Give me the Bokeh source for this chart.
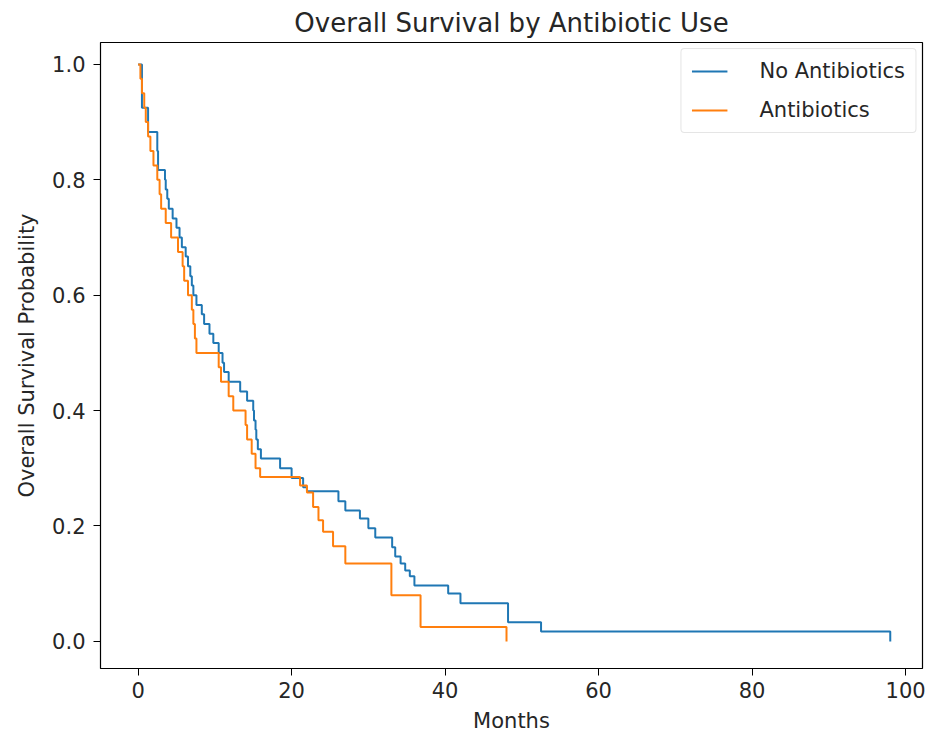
from bokeh.plotting import figure
from bokeh.models import FixedTicker, PrintfTickFormatter, Range1d, Legend, LegendItem
from bokeh.embed import file_html
from bokeh.resources import INLINE

# Kaplan-Meier step data
no_abx_months = [0, 0.5, 1.3, 2.5, 2.6, 3.5, 3.6, 3.8, 4.0, 4.5, 5.0, 5.4, 5.7, 6.2, 6.5,
                 6.8, 7.0, 7.2, 7.6, 8.3, 8.6, 9.3, 9.8, 10.5, 11.0, 11.2, 11.8, 13.3,
                 14.2, 15.0, 15.1, 15.3, 15.4, 15.6, 16.0, 18.5, 20.0, 21.5, 22.0, 26.1,
                 27.0, 28.9, 30.0, 30.9, 33.1, 33.5, 34.2, 34.8, 35.4, 36.0, 40.4, 42.0,
                 48.2, 52.5, 98.0]
no_abx_surv = [1.0, 0.925, 0.883, 0.85, 0.817, 0.8, 0.783, 0.767, 0.75, 0.733, 0.717, 0.7,
               0.683, 0.667, 0.65, 0.633, 0.617, 0.6, 0.583, 0.567, 0.55, 0.533, 0.517,
               0.5, 0.483, 0.467, 0.45, 0.433, 0.417, 0.4, 0.383, 0.367, 0.35, 0.333,
               0.317, 0.3, 0.283, 0.267, 0.26, 0.243, 0.227, 0.213, 0.196, 0.18, 0.163,
               0.147, 0.135, 0.123, 0.113, 0.097, 0.083, 0.066, 0.033, 0.017, 0.0]

abx_months = [0, 0.3, 0.5, 0.8, 1.0, 1.3, 1.6, 2.0, 2.5, 2.8, 3.0, 3.6, 4.3, 5.2, 5.8, 6.0,
              6.5, 7.0, 7.2, 7.4, 7.6, 10.5, 10.8, 11.8, 12.4, 14.0, 14.2, 14.8, 15.3,
              15.9, 21.1, 22.0, 22.8, 23.5, 24.1, 25.4, 27.0, 33.0, 36.8, 48.0]
abx_surv = [1.0, 0.975, 0.95, 0.925, 0.9, 0.875, 0.85, 0.825, 0.8, 0.775, 0.75, 0.725, 0.7,
            0.675, 0.65, 0.625, 0.6, 0.575, 0.55, 0.525, 0.5, 0.475, 0.45, 0.425, 0.4,
            0.375, 0.35, 0.325, 0.3, 0.285, 0.27, 0.258, 0.233, 0.21, 0.19, 0.165, 0.135,
            0.08, 0.025, 0.0]

x_ticks = [0, 20, 40, 60, 80, 100]
y_ticks = [0.0, 0.2, 0.4, 0.6, 0.8, 1.0]

FONT = "DejaVu Sans"
TXT = "#262626"

p = figure(width=936, height=749, output_backend="svg", toolbar_location=None,
           x_range=Range1d(-4.9, 102.2), y_range=Range1d(-0.047, 1.038),
           title="Overall Survival by Antibiotic Use",
           min_border_left=100, min_border_right=14, min_border_top=42, min_border_bottom=81)

p.title.align = "center"
p.title.text_font = FONT
p.title.text_font_size = "26px"
p.title.text_font_style = "normal"
p.title.text_color = TXT
p.title.offset = 0

p.background_fill_color = "white"
p.border_fill_color = "white"
p.outline_line_color = "black"
p.outline_line_width = 1.2
p.xgrid.visible = False
p.ygrid.visible = False

for ax in (p.xaxis[0], p.yaxis[0]):
    ax.axis_line_color = None
    ax.major_tick_in = 0
    ax.major_tick_out = 7
    ax.minor_tick_line_color = None
    ax.major_tick_line_color = "black"
    ax.major_label_text_font = FONT
    ax.major_label_text_font_size = "21px"
    ax.major_label_text_color = TXT
    ax.axis_label_text_font = FONT
    ax.axis_label_text_font_size = "21px"
    ax.axis_label_text_font_style = "normal"
    ax.axis_label_text_color = TXT

p.xaxis.ticker = FixedTicker(ticks=x_ticks)
p.yaxis.ticker = FixedTicker(ticks=y_ticks)
p.yaxis.formatter = PrintfTickFormatter(format="%.1f")
p.xaxis.axis_label = "Months"
p.yaxis.axis_label = "Overall Survival Probability"
p.xaxis.major_label_standoff = 6
p.yaxis.major_label_standoff = 8
p.xaxis.axis_label_standoff = 8
p.yaxis.axis_label_standoff = 10

r1 = p.step(no_abx_months, no_abx_surv, mode="after", line_color="#1f77b4", line_width=2)
r2 = p.step(abx_months, abx_surv, mode="after", line_color="#ff7f0e", line_width=2)

legend = Legend(items=[LegendItem(label="No Antibiotics", renderers=[r1]),
                       LegendItem(label="Antibiotics", renderers=[r2])],
                location="top_right")
legend.margin = 6
legend.padding = 10
legend.spacing = 15
legend.glyph_width = 36
legend.glyph_height = 22
legend.label_height = 22
legend.label_standoff = 32
legend.label_text_font = FONT
legend.label_text_font_size = "21px"
legend.label_text_color = TXT
legend.border_line_color = "#cccccc"
legend.border_line_width = 1
legend.border_radius = 4
legend.background_fill_alpha = 0.8
p.add_layout(legend)

open("out.html", "w").write(file_html(p, INLINE))
